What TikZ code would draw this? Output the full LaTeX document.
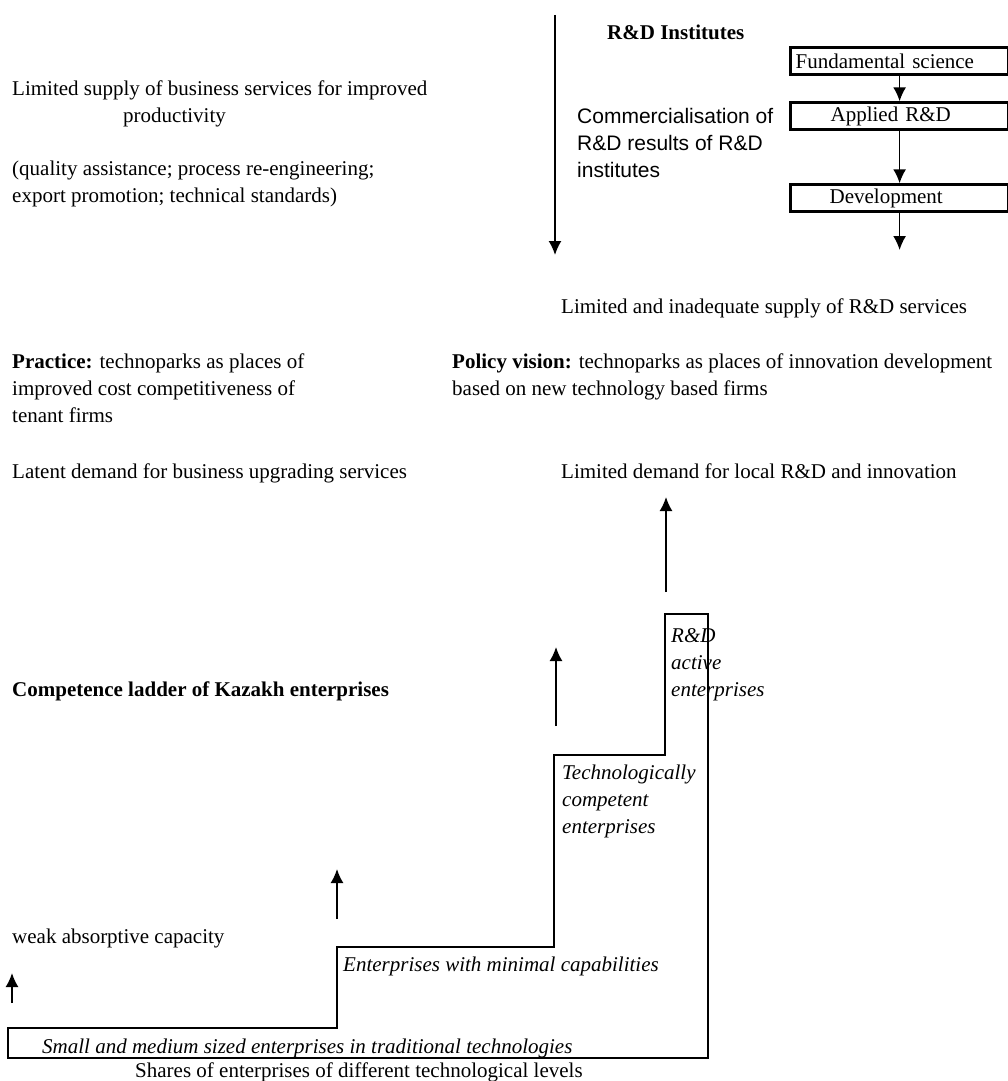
\documentclass[tikz,border=0pt]{standalone}
\usepackage{fontspec}
\setmainfont{Liberation Serif}
\newfontfamily\arialfont{Liberation Sans}
\usetikzlibrary{arrows.meta}

\begin{document}
\begin{tikzpicture}[x=1pt,y=-1pt,
  txt/.style={anchor=base west, inner sep=0pt, font=\fontsize{21}{27}\selectfont},
  sanstxt/.style={txt, font=\fontsize{21}{27}\arialfont},
  itxt/.style={txt, font=\fontsize{21}{27}\selectfont\itshape},
  stagebox/.style={draw, line width=2.6pt, anchor=north west, minimum height=27pt,
    text width=208pt, inner xsep=5pt, inner ysep=0pt, align=left,
    font=\fontsize{21}{27}\selectfont},
  arr/.style={line width=1.7pt, -{Latex[length=14pt,width=13pt]}},
  ladder/.style={line width=1.4pt, line join=miter}]
\useasboundingbox (0,0) rectangle (1008,1081);

% ---- supply side: business services
\node[txt] (bs1) at (12,95) {Limited supply of business services for improved};
\node[txt] (bs2) at (123,122) {productivity};
\node[txt] (bs3) at (12,175) {(quality assistance; process re-engineering;};
\node[txt] (bs4) at (12,202) {export promotion; technical standards)};

% ---- supply side: R&D institutes
\coordinate (comtop) at (555,15);
\coordinate (combot) at (555,255);
\draw[arr] (comtop) -- (combot);
\node[txt] (rdi) at (607,40) {\textbf{R\&D Institutes}};
\node[sanstxt] (cm1) at (577,123) {Commercialisation of};
\node[sanstxt] (cm2) at (577,150) {R\&D results of R\&D};
\node[sanstxt] (cm3) at (577,177) {institutes};

\node[stagebox] (fs) at (789.3,46.3) {Fundamental science};
\node[stagebox] (ap) at (789.3,101.3) {\hspace*{35pt}Applied R\&D};
\node[stagebox] (dv) at (789.3,183.3) {\hspace*{34pt}Development};
\coordinate (dvout) at (898,250);
\draw[arr] (fs.south) -- (ap.north);
\draw[arr] (ap.south) -- (dv.north);
\draw[arr] (dv.south) -- (dv.south |- dvout);

\node[txt] (rdsup) at (561,313) {Limited and inadequate supply of R\&D services};

% ---- practice versus policy vision
\node[txt] (pr1) at (12,368) {\textbf{Practice:} technoparks as places of};
\node[txt] (pr2) at (12,395) {improved cost competitiveness of};
\node[txt] (pr3) at (12,422) {tenant firms};
\node[txt] (pv1) at (452,368) {\textbf{Policy vision:} technoparks as places of innovation development};
\node[txt] (pv2) at (452,395) {based on new technology based firms};

% ---- demand side
\node[txt] (latent) at (12,478) {Latent demand for business upgrading services};
\node[txt] (rddem) at (561,478) {Limited demand for local R\&D and innovation};
\node[txt] (ladtitle) at (12,696) {\textbf{Competence ladder of Kazakh enterprises}};
\node[txt] (weak) at (12,943) {weak absorptive capacity};

% ---- competence ladder outline
\draw[ladder] (8,1028) -- (337,1028) -- (337,947) -- (554,947) -- (554,755)
  -- (665,755) -- (665,614) -- (708,614) -- (708,1058) -- (8,1058) -- cycle;

\node[itxt] (st4a) at (671,642) {R\&D};
\node[itxt] (st4b) at (671,669) {active};
\node[itxt] (st4c) at (671,696) {enterprises};
\node[itxt] (st3a) at (562,779) {Technologically};
\node[itxt] (st3b) at (562,806) {competent};
\node[itxt] (st3c) at (562,833) {enterprises};
\node[itxt] (st2) at (343,971) {Enterprises with minimal capabilities};
\node[itxt] (st1) at (42,1053) {Small and medium sized enterprises in traditional technologies};
\node[txt] (shares) at (135,1077) {Shares of enterprises of different technological levels};

% ---- upward arrows between the steps
\coordinate (up1a) at (12,1003);  \coordinate (up1b) at (12,973);
\coordinate (up2a) at (337,919);  \coordinate (up2b) at (337,869);
\coordinate (up3a) at (556,726);  \coordinate (up3b) at (556,647);
\coordinate (up4a) at (666,592);  \coordinate (up4b) at (666,497);
\draw[arr] (up1a) -- (up1b);
\draw[arr] (up2a) -- (up2b);
\draw[arr] (up3a) -- (up3b);
\draw[arr] (up4a) -- (up4b);
\end{tikzpicture}
\end{document}
